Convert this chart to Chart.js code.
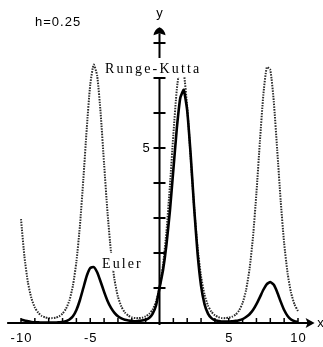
<!DOCTYPE html>
<html lang="en">
<head>
    <meta charset="UTF-8">
    <title>Euler vs Runge-Kutta</title>
    <style>
        body {
            margin: 0;
            padding: 0;
            background-color: #fff;
        }
        canvas {
            display: block;
        }
    </style>
    <script src="https://cdn.jsdelivr.net/npm/chart.js"></script>
</head>
<body>
    <canvas id="stepChart" width="323" height="347"></canvas>
    <script>
        // y' = 2y cos x, y(0) = 1, step h = 0.25
        const xValues = [
            -10, -9.75, -9.5, -9.25, -9, -8.75, -8.5, -8.25, -8, -7.75, -7.5, -7.25,
            -7, -6.75, -6.5, -6.25, -6, -5.75, -5.5, -5.25, -5, -4.75, -4.5, -4.25,
            -4, -3.75, -3.5, -3.25, -3, -2.75, -2.5, -2.25, -2, -1.75, -1.5, -1.25,
            -1, -0.75, -0.5, -0.25, 0, 0.25, 0.5, 0.75, 1, 1.25, 1.5, 1.75,
            2, 2.25, 2.5, 2.75, 3, 3.25, 3.5, 3.75, 4, 4.25, 4.5, 4.75,
            5, 5.25, 5.5, 5.75, 6, 6.25, 6.5, 6.75, 7, 7.25, 7.5, 7.75,
            8, 8.25, 8.5, 8.75, 9, 9.25, 9.5, 9.75, 10
        ];
        const rungeKutta = [
            2.97, 1.89, 1.16, 0.71, 0.44, 0.29, 0.20, 0.16, 0.14, 0.14, 0.15, 0.19,
            0.27, 0.41, 0.65, 1.07, 1.75, 2.76, 4.10, 5.57, 6.81, 7.38, 7.06, 5.99,
            4.54, 3.14, 2.02, 1.24, 0.75, 0.47, 0.30, 0.21, 0.16, 0.14, 0.14, 0.15,
            0.19, 0.26, 0.38, 0.61, 1.00, 1.64, 2.61, 3.91, 5.38, 6.67, 7.35, 7.16,
            6.16, 4.74, 3.31, 2.15, 1.33, 0.81, 0.50, 0.32, 0.22, 0.17, 0.14, 0.14,
            0.15, 0.18, 0.24, 0.36, 0.57, 0.94, 1.54, 2.46, 3.72, 5.19, 6.53, 7.31,
            7.23, 6.33, 4.94, 3.49, 2.28, 1.42, 0.86, 0.53, 0.34
        ];
        const euler = [
            0.10, 0.07, 0.05, 0.03, 0.02, 0.02, 0.01, 0.01, 0.01, 0.01, 0.01, 0.02,
            0.03, 0.05, 0.10, 0.19, 0.37, 0.65, 1.00, 1.35, 1.57, 1.60, 1.45, 1.18,
            0.89, 0.63, 0.43, 0.29, 0.19, 0.13, 0.09, 0.07, 0.06, 0.05, 0.06, 0.07,
            0.09, 0.14, 0.26, 0.50, 1.00, 1.50, 2.23, 3.20, 4.38, 5.56, 6.43, 6.66,
            6.07, 4.81, 3.30, 1.98, 1.06, 0.54, 0.27, 0.14, 0.08, 0.06, 0.04, 0.04,
            0.04, 0.05, 0.06, 0.08, 0.11, 0.17, 0.25, 0.37, 0.54, 0.74, 0.95, 1.11,
            1.17, 1.09, 0.88, 0.61, 0.37, 0.20, 0.10, 0.05, 0.03
        ];

        const xTicks = [-10, -9, -8, -7, -6, -5, -4, -3, -2, -1, 1, 2, 3, 4, 5, 6, 7, 8, 9, 10];
        const xTickLabels = [[-10, "-10"], [-5, "-5"], [5, "5"], [10, "10"]];
        const yTicks = [1, 2, 3, 4, 5, 6, 7, 8];
        const yTickLabels = [[5, "5"]];
        const stepLabel = "h=0.25";

        function points(ys) {
            return xValues.map((x, i) => ({ x: x, y: ys[i] }));
        }

        const axesPlugin = {
            id: "crossAxes",
            afterDatasetsDraw(chart) {
                const { ctx, scales } = chart;
                const sx = scales.x, sy = scales.y;
                const x0 = sx.getPixelForValue(0);
                const y0 = sy.getPixelForValue(0);
                const xStart = sx.getPixelForValue(-11);
                const xEnd = sx.getPixelForValue(11.2);
                const yEnd = sy.getPixelForValue(8.45);

                ctx.save();
                ctx.strokeStyle = "#000";
                ctx.fillStyle = "#000";
                ctx.lineCap = "butt";

                // horizontal axis + arrow
                ctx.lineWidth = 2;
                ctx.beginPath();
                ctx.moveTo(xStart, y0);
                ctx.lineTo(xEnd - 6, y0);
                ctx.stroke();
                ctx.beginPath();
                ctx.moveTo(xEnd, y0);
                ctx.lineTo(xEnd - 9, y0 - 5);
                ctx.lineTo(xEnd - 7, y0);
                ctx.lineTo(xEnd - 9, y0 + 5);
                ctx.closePath();
                ctx.fill();

                // vertical axis + arrow
                ctx.beginPath();
                ctx.moveTo(x0, y0 + 2);
                ctx.lineTo(x0, yEnd + 6);
                ctx.stroke();
                ctx.beginPath();
                ctx.moveTo(x0, yEnd);
                ctx.quadraticCurveTo(x0 + 5, yEnd + 2, x0 + 6, yEnd + 8);
                ctx.lineTo(x0, yEnd + 6);
                ctx.lineTo(x0 - 6, yEnd + 8);
                ctx.quadraticCurveTo(x0 - 5, yEnd + 2, x0, yEnd);
                ctx.closePath();
                ctx.fill();

                // tick marks
                ctx.lineWidth = 1.5;
                xTicks.forEach(v => {
                    const px = sx.getPixelForValue(v);
                    ctx.beginPath();
                    ctx.moveTo(px, y0);
                    ctx.lineTo(px, y0 - 5);
                    ctx.stroke();
                });
                ctx.lineWidth = 2;
                yTicks.forEach(v => {
                    const py = sy.getPixelForValue(v);
                    ctx.beginPath();
                    ctx.moveTo(x0 - 6, py);
                    ctx.lineTo(x0 + 6, py);
                    ctx.stroke();
                });

                // tick labels
                ctx.font = "13px 'Liberation Sans', Arial, sans-serif";
                ctx.textAlign = "center";
                ctx.textBaseline = "middle";
                ctx.letterSpacing = "1px";
                xTickLabels.forEach(([v, t]) => {
                    ctx.fillText(t, sx.getPixelForValue(v) + 0.5, y0 + 15);
                });
                yTickLabels.forEach(([v, t]) => {
                    ctx.fillText(t, x0 - 13, sy.getPixelForValue(v));
                });

                // axis names
                ctx.letterSpacing = "0px";
                ctx.fillText("x", xEnd + 6, y0);
                ctx.fillText("y", x0, 13);

                ctx.restore();
            },
            afterDraw(chart) {
                const { ctx } = chart;
                ctx.save();
                ctx.fillStyle = "#000";
                ctx.textBaseline = "alphabetic";
                ctx.textAlign = "left";

                ctx.font = "13px 'Liberation Sans', Arial, sans-serif";
                ctx.letterSpacing = "1px";
                ctx.fillText(stepLabel, 35, 26);

                // curve names sit on white boxes that cut the lines behind them
                ctx.font = "14px 'Liberation Serif', 'Times New Roman', serif";
                ctx.letterSpacing = "2.2px";
                ctx.fillStyle = "#fff";
                ctx.fillRect(102, 58, 103, 19);
                ctx.fillStyle = "#000";
                ctx.fillText("Runge-Kutta", 105, 73);

                ctx.letterSpacing = "2.1px";
                ctx.fillStyle = "#fff";
                ctx.fillRect(99, 253, 47, 17);
                ctx.fillStyle = "#000";
                ctx.fillText("Euler", 102, 268);

                ctx.restore();
            }
        };

        const chart = new Chart(document.getElementById("stepChart"), {
            type: "line",
            data: {
                datasets: [
                    {
                        label: "Euler",
                        data: points(euler),
                        borderColor: "#000",
                        borderWidth: 2.6,
                        pointRadius: 0,
                        tension: 0.15,
                        clip: false,
                        order: 0,
                    },
                    {
                        label: "Runge-Kutta",
                        data: points(rungeKutta),
                        borderColor: "#2a2a2a",
                        borderWidth: 2,
                        borderDash: [1.5, 1.2],
                        pointRadius: 0,
                        tension: 0.2,
                        clip: false,
                        order: 1,
                    },
                ],
            },
            options: {
                responsive: false,
                animation: false,
                layout: {
                    padding: { left: 21, right: 25, top: 43, bottom: 24 },
                },
                plugins: {
                    legend: { display: false },
                    tooltip: { enabled: false },
                },
                scales: {
                    x: { type: "linear", min: -10, max: 10, display: false },
                    y: { type: "linear", min: 0, max: 8, display: false },
                },
            },
            plugins: [axesPlugin],
        });
    </script>
</body>
</html>
